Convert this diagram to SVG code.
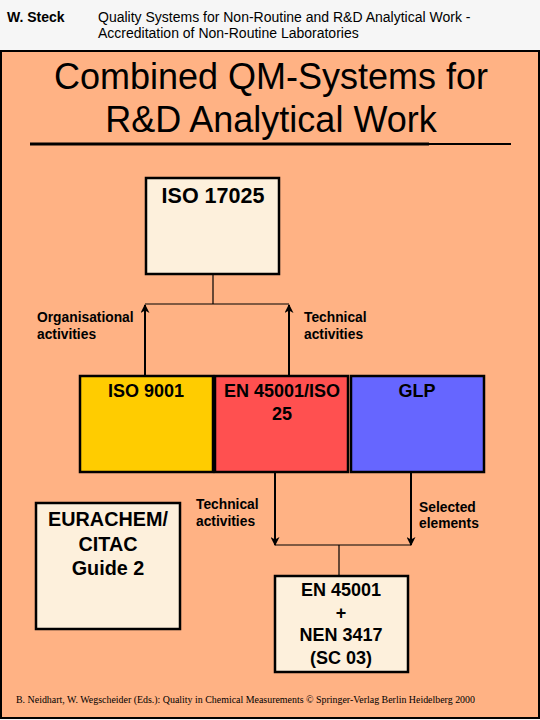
<svg xmlns="http://www.w3.org/2000/svg" width="540" height="720" viewBox="0 0 540 720">
<defs>
<style>
.box{stroke:#000;stroke-width:2.5}
.cream{fill:#FDF0DC}
.lbl{font-family:"Liberation Sans",Arial,sans-serif;font-weight:bold;font-size:13.8px;fill:#000}
.bt{font-family:"Liberation Sans",Arial,sans-serif;font-weight:bold;font-size:18px;fill:#000;text-anchor:middle}
.hd{font-family:"Liberation Sans",Arial,sans-serif;font-size:14px;fill:#000}
.ln{stroke:#000;stroke-width:1.2;fill:none}
.ar{stroke:#000;stroke-width:2;fill:none}
</style>
<marker id="ah" viewBox="0 0 10 10" refX="9" refY="5" markerWidth="11" markerHeight="9" orient="auto" markerUnits="userSpaceOnUse">
<path d="M0,0 L10,5 L0,10 L3,5 Z" fill="#000"/>
</marker>
</defs>
<rect x="0" y="0" width="540" height="720" fill="#F6F6F6"/>
<text class="hd" x="7" y="22" font-weight="bold" font-size="13.7">W. Steck</text>
<text class="hd" x="98" y="22">Quality Systems for Non-Routine and R&amp;D Analytical Work -</text>
<text class="hd" x="98" y="38">Accreditation of Non-Routine Laboratories</text>
<rect x="1" y="51" width="538" height="667" fill="#FFB284" stroke="#000" stroke-width="2"/>
<text x="271" y="89" text-anchor="middle" style="font-family:'Liberation Sans',Arial,sans-serif;font-size:36px">Combined QM-Systems for</text>
<text x="271" y="132" text-anchor="middle" style="font-family:'Liberation Sans',Arial,sans-serif;font-size:36px">R&amp;D Analytical Work</text>
<line x1="30" y1="144" x2="429" y2="144" stroke="#000" stroke-width="3"/>
<line x1="429" y1="144" x2="511" y2="144" stroke="#000" stroke-width="1.8"/>
<g id="connectors">
<line class="ln" x1="213" y1="274" x2="213" y2="304"/>
<line class="ln" x1="145" y1="304" x2="289" y2="304"/>
<line class="ar" x1="145" y1="376" x2="145" y2="305" marker-end="url(#ah)"/>
<line class="ar" x1="289" y1="376" x2="289" y2="305" marker-end="url(#ah)"/>
<line class="ar" x1="275" y1="472" x2="275" y2="545" marker-end="url(#ah)"/>
<line class="ar" x1="411" y1="472" x2="411" y2="545" marker-end="url(#ah)"/>
<line class="ln" x1="275" y1="545" x2="411" y2="545"/>
<line class="ln" x1="339" y1="545" x2="339" y2="576"/>
<text class="lbl" x="37" y="322">Organisational</text>
<text class="lbl" x="37" y="339">activities</text>
<text class="lbl" x="304" y="322">Technical</text>
<text class="lbl" x="304" y="339">activities</text>
<text class="lbl" x="196" y="509">Technical</text>
<text class="lbl" x="196" y="526">activities</text>
<text class="lbl" x="419" y="512">Selected</text>
<text class="lbl" x="419" y="528">elements</text>
</g>
<g id="iso17025">
<rect class="box cream" x="146" y="178" width="133" height="96"/>
<text class="bt" x="213" y="203" style="font-size:21.5px">ISO 17025</text>
</g>
<g id="iso9001">
<rect class="box" x="80" y="376" width="133" height="96" fill="#FFCC00"/>
<text class="bt" x="146" y="397">ISO 9001</text>
</g>
<g id="en45001iso25">
<rect class="box" x="215" y="376" width="133" height="96" fill="#FF5050"/>
<text class="bt" x="282" y="397">EN 45001/ISO</text>
<text class="bt" x="282" y="420">25</text>
</g>
<g id="glp">
<rect class="box" x="351" y="376" width="133" height="96" fill="#6666FF"/>
<text class="bt" x="417" y="397">GLP</text>
</g>
<g id="eurachem">
<rect class="box cream" x="36" y="503" width="144" height="126"/>
<text class="bt" x="108" y="526" style="font-size:19.8px">EURACHEM/</text>
<text class="bt" x="108" y="551" style="font-size:19.8px">CITAC</text>
<text class="bt" x="108" y="575" style="font-size:19.8px">Guide 2</text>
</g>
<g id="en45001nen">
<rect class="box cream" x="275" y="576" width="133" height="96"/>
<text class="bt" x="341" y="596">EN 45001</text>
<text class="bt" x="341" y="619">+</text>
<text class="bt" x="341" y="641">NEN 3417</text>
<text class="bt" x="341" y="664">(SC 03)</text>
</g>
<text x="16" y="703" textLength="459" lengthAdjust="spacingAndGlyphs" style="font-family:'Liberation Serif','Times New Roman',serif;font-size:10.5px">B. Neidhart, W. Wegscheider (Eds.): Quality in Chemical Measurements © Springer-Verlag Berlin Heidelberg 2000</text>
</svg>
